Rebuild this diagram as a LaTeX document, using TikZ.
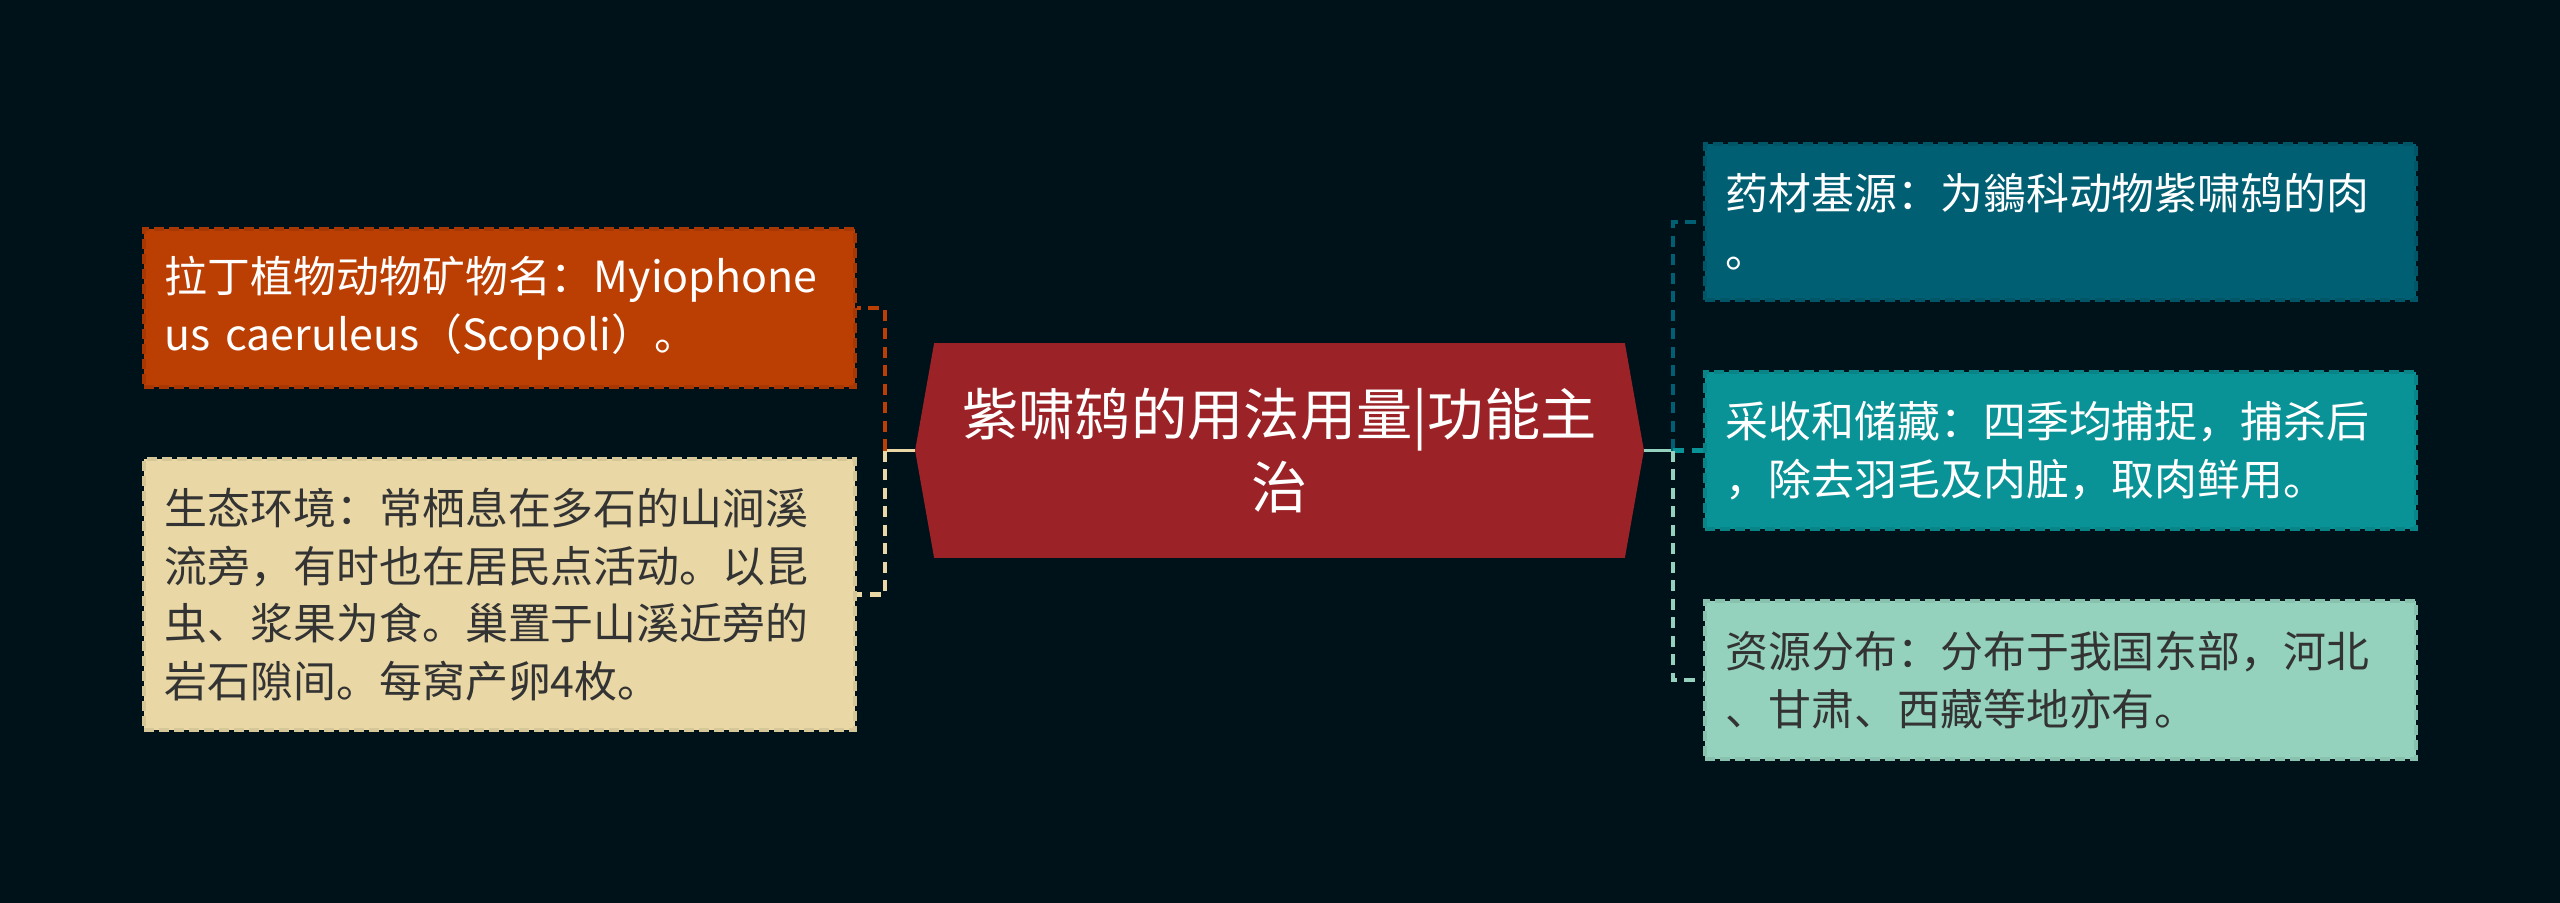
\documentclass[tikz,border=0pt]{standalone}
\usepackage{fontspec}
\setmainfont{Noto Sans CJK SC}
\usetikzlibrary{calc,backgrounds}

\definecolor{bgnavy}{HTML}{001219}
\definecolor{hubred}{HTML}{9B2226}
\definecolor{rust}{HTML}{BB3E03}
\definecolor{sand}{HTML}{E9D8A6}
\definecolor{petrol}{HTML}{005F73}
\definecolor{seateal}{HTML}{0A9396}
\definecolor{mint}{HTML}{94D2BD}
\definecolor{inkgray}{HTML}{333333}

\begin{document}
\begin{tikzpicture}[x=0.01cm, y=-0.01cm,
    leaf/.style={dashed, dash pattern=on 1mm off 0.5mm, line width=1.1pt,
        align=left, text width=6.69cm, inner xsep=0.21cm, inner ysep=0pt,
        font=\fontsize{12.2pt}{16.4pt}\selectfont},
    hubtext/.style={align=center, text=white, minimum width=6.89cm, minimum height=2.13cm,
        font=\fontsize{16pt}{20.8pt}\selectfont},
    link/.style={line width=1.4pt, dash pattern=on 1.1mm off 0.75mm}]
    \useasboundingbox (0,0) rectangle (2560,903);

    \node[hubtext] (hub) at (1279.5,450.5) {紫啸鸫的用法用量|功能主\\治};

    % left branches
    \node[leaf, fill=rust, draw=rust!90!black, text=white, minimum height=1.58cm] (lat) at (499.5,308)
        {拉丁植物动物矿物名：Myiophone\\us caeruleus（Scopoli）。};
    \node[leaf, fill=sand, draw=sand!92!black, text=inkgray, minimum height=2.71cm] (eco) at (499.5,594.5)
        {生态环境：常栖息在多石的山涧溪\\流旁，有时也在居民点活动。以昆\\虫、浆果为食。巢置于山溪近旁的\\岩石隙间。每窝产卵4枚。};

    % right branches
    \node[leaf, fill=petrol, draw=petrol!90!black, text=white, minimum height=1.56cm] (src) at (2060.5,222)
        {药材基源：为鶲科动物紫啸鸫的肉\\。};
    \node[leaf, fill=seateal, draw=seateal!90!black, text=white, minimum height=1.57cm] (rec) at (2060.5,450.5)
        {采收和储藏：四季均捕捉，捕杀后\\，除去羽毛及内脏，取肉鲜用。};
    \node[leaf, fill=mint, draw=mint!92!black, text=inkgray, minimum height=1.58cm] (dist) at (2060.5,680)
        {资源分布：分布于我国东部，河北\\、甘肃、西藏等地亦有。};

    \begin{scope}[on background layer]
        \fill[bgnavy] (0,0) rectangle (2560,903);
        \fill[hubred] (hub.north west) -- (hub.north east) -- ($(hub.east)+(19,0)$) coordinate (hubE)
            -- (hub.south east) -- (hub.south west) -- ($(hub.west)+(-19,0)$) coordinate (hubW) -- cycle;
    \end{scope}

    \coordinate (ljoin) at (885,450.5);
    \coordinate (rjoin) at (1673,450.5);

    \draw[sand, line width=1.1pt] (hubW) -- (ljoin);
    \draw[link, rust] (ljoin) |- (lat.east);
    \draw[link, sand] (ljoin) |- (eco.east);

    \draw[mint, line width=1.1pt] (hubE) -- (rjoin);
    \draw[link, petrol] (rjoin) |- (src.west);
    \draw[link, seateal] (rjoin) |- (rec.west);
    \draw[link, mint] (rjoin) |- (dist.west);
\end{tikzpicture}
\end{document}
